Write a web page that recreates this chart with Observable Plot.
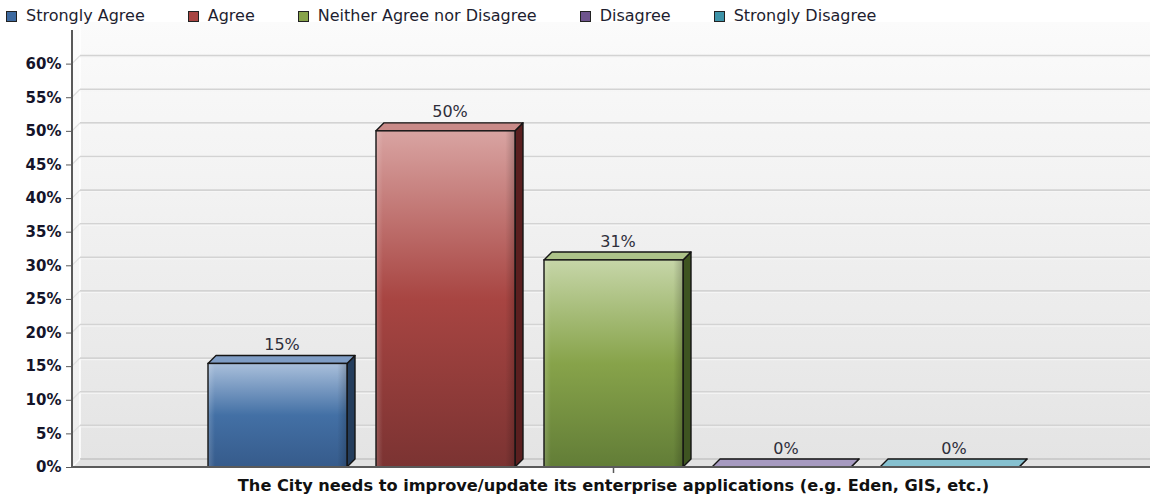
<!DOCTYPE html>
<html><head><meta charset="utf-8">
<script src="https://cdn.jsdelivr.net/npm/d3@7"></script>
<script src="https://cdn.jsdelivr.net/npm/@observablehq/plot@0.6"></script>
<style>
body{margin:0;background:#fff;font-family:"DejaVu Sans",sans-serif;}
#legend{height:22px;display:flex;align-items:flex-start;font-size:16px;line-height:20px;color:#1e1e30;padding-left:6px;box-sizing:border-box;padding-top:6px;overflow:visible;position:relative;z-index:2;}
.item{display:flex;align-items:center;margin-right:43px;white-space:nowrap;height:20px;}
.sw{width:9px;height:9px;border:1px solid #222;margin-right:9px;}
#chart svg{display:block;}
</style></head><body>
<div id="legend"></div><div id="chart"></div>
<script>
const statement = "The City needs to improve/update its enterprise applications (e.g. Eden, GIS, etc.)";
const answers = ["Strongly Agree", "Agree", "Neither Agree nor Disagree", "Disagree", "Strongly Disagree"];
const percents = [15.4, 50, 30.8, 0, 0];
const valueLabels = ["15%", "50%", "31%", "0%", "0%"];
const yTicks = [0, 5, 10, 15, 20, 25, 30, 35, 40, 45, 50, 55, 60];
const swatchColors = ["#3e6aa0", "#a84542", "#87a34a", "#6e548d", "#3e93a8"];
const gradLight = ["#a9bfdb", "#d9a4a2", "#c6d6a8", "#b9abd0", "#a3d2de"];
const gradMid = ["#4370a5", "#a84542", "#87a34a", "#7a5f9a", "#4a9ab0"];
const gradDark = ["#365b8b", "#7b3332", "#627d37", "#5a4575", "#357a8a"];
const topFace = ["#7f9dc5", "#c98a88", "#adc389", "#a69ac0", "#86c1d0"];
const sideFace = ["#243d5c", "#5a1f1f", "#3e5421", "#3e2f55", "#24596a"];

const data = answers.map((answer, i) => ({answer, value: percents[i], label: valueLabels[i], i}));

// legend
const legend = d3.select("#legend");
answers.forEach((a, i) => {
  const it = legend.append("div").attr("class", "item");
  it.append("div").attr("class", "sw").style("background", swatchColors[i]);
  it.append("span").text(a);
});

const DX = 8, DY = 8;

function backdrop(index, scales, values, dims) {
  const {width, height, marginLeft, marginRight, marginTop, marginBottom} = dims;
  const y = scales.y;
  const x0 = marginLeft, x1 = width - marginRight;
  const yb = height - marginBottom, yt = marginTop;
  const g = d3.create("svg:g");
  const defs = g.append("defs");
  const lg = defs.append("linearGradient").attr("id", "wallGrad").attr("x1", 0).attr("y1", 0).attr("x2", 0).attr("y2", 1);
  lg.append("stop").attr("offset", 0).attr("stop-color", "#fbfbfb");
  lg.append("stop").attr("offset", 1).attr("stop-color", "#e4e4e4");
  const lw = defs.append("linearGradient").attr("id", "leftGrad").attr("x1", 0).attr("y1", 0).attr("x2", 0).attr("y2", 1);
  lw.append("stop").attr("offset", 0).attr("stop-color", "#fdfdfd");
  lw.append("stop").attr("offset", 1).attr("stop-color", "#ececec");
  g.append("rect").attr("x", x0 + DX).attr("y", yt - DY).attr("width", x1 - x0 - DX).attr("height", yb - yt)
    .attr("fill", "url(#wallGrad)");
  g.append("path").attr("d", `M${x0},${yt}L${x0 + DX},${yt - DY}L${x0 + DX},${yb - DY}L${x0},${yb}Z`).attr("fill", "url(#leftGrad)");
  g.append("line").attr("x1", x0 + DX).attr("x2", x0 + DX).attr("y1", yt - DY).attr("y2", yb - DY).attr("stroke", "#fff").attr("stroke-width", 1.5);
  for (const t of yTicks) {
    if (t === 0) continue;
    const yy = y(t);
    g.append("line").attr("x1", x0 + DX).attr("x2", x1).attr("y1", yy - DY).attr("y2", yy - DY)
      .attr("stroke", "#d3d3d3").attr("stroke-width", 1.6);
    g.append("line").attr("x1", x0 + DX).attr("x2", x1).attr("y1", yy - DY + 1.5).attr("y2", yy - DY + 1.5)
      .attr("stroke", "#f6f6f6").attr("stroke-width", 1);
    g.append("line").attr("x1", x0).attr("x2", x0 + DX).attr("y1", yy).attr("y2", yy - DY)
      .attr("stroke", "#dedede").attr("stroke-width", 1.2);
  }
  g.append("path").attr("d", `M${x0},${yb}L${x0 + DX},${yb - DY}L${x1},${yb - DY}L${x1},${yb}Z`).attr("fill", "#e2e2e2");
  g.append("line").attr("x1", x0 + DX).attr("x2", x1).attr("y1", yb - DY).attr("y2", yb - DY).attr("stroke", "#c4c4c4").attr("stroke-width", 1.6);
  g.append("line").attr("x1", x0).attr("x2", x0 + DX).attr("y1", yb).attr("y2", yb - DY).attr("stroke", "#fafafa").attr("stroke-width", 1.5);
  return g.node();
}

function axes(index, scales, values, dims) {
  const {width, height, marginLeft, marginRight, marginTop, marginBottom} = dims;
  const x = scales.x;
  const x0 = marginLeft, x1 = width - marginRight;
  const yb = height - marginBottom, yt = marginTop;
  const g = d3.create("svg:g");
  g.append("line").attr("x1", x0).attr("x2", x0).attr("y1", yt).attr("y2", yb + 0.5).attr("stroke", "#5a5a5a").attr("stroke-width", 2);
  g.append("line").attr("x1", x0).attr("x2", x1).attr("y1", yb).attr("y2", yb).attr("stroke", "#5a5a5a").attr("stroke-width", 2);
  const cx = (x(answers[0]) + x(answers[answers.length - 1]) + x.bandwidth()) / 2;
  g.append("line").attr("x1", cx).attr("x2", cx).attr("y1", yb).attr("y2", yb + 6).attr("stroke", "#5a5a5a").attr("stroke-width", 1.5);
  return g.node();
}

function bars3d(index, scales) {
  const x = scales.x, y = scales.y;
  const bw = x.bandwidth();
  const g = d3.create("svg:g");
  const defs = g.append("defs");
  const hg = defs.append("linearGradient").attr("id", "shadeH").attr("x1", 0).attr("y1", 0).attr("x2", 1).attr("y2", 0);
  hg.append("stop").attr("offset", 0).attr("stop-color", "#fff").attr("stop-opacity", 0.18);
  hg.append("stop").attr("offset", 0.05).attr("stop-color", "#fff").attr("stop-opacity", 0);
  hg.append("stop").attr("offset", 0.93).attr("stop-color", "#000").attr("stop-opacity", 0);
  hg.append("stop").attr("offset", 1).attr("stop-color", "#000").attr("stop-opacity", 0.2);
  for (const i of index) {
    const d = data[i];
    const lg = defs.append("linearGradient").attr("id", "barGrad" + d.i).attr("x1", 0).attr("y1", 0).attr("x2", 0).attr("y2", 1);
    lg.append("stop").attr("offset", 0).attr("stop-color", gradLight[d.i]);
    lg.append("stop").attr("offset", 0.5).attr("stop-color", gradMid[d.i]);
    lg.append("stop").attr("offset", 1).attr("stop-color", gradDark[d.i]);
    const xl = x(d.answer), xr = xl + bw;
    const yt = y(d.value), yb = y(0);
    const stroke = "#151515", sw = 1.4;
    g.append("path").attr("d", `M${xr},${yt}L${xr + DX},${yt - DY}L${xr + DX},${yb - DY}L${xr},${yb}Z`)
      .attr("fill", sideFace[d.i]).attr("stroke", stroke).attr("stroke-width", sw).attr("stroke-linejoin", "round");
    g.append("path").attr("d", `M${xl},${yt}L${xl + DX},${yt - DY}L${xr + DX},${yt - DY}L${xr},${yt}Z`)
      .attr("fill", topFace[d.i]).attr("stroke", stroke).attr("stroke-width", sw).attr("stroke-linejoin", "round");
    if (yb - yt > 0.5) {
      g.append("rect").attr("x", xl).attr("y", yt).attr("width", bw).attr("height", yb - yt)
        .attr("fill", `url(#barGrad${d.i})`);
      g.append("rect").attr("x", xl).attr("y", yt).attr("width", bw).attr("height", yb - yt)
        .attr("fill", "url(#shadeH)").attr("stroke", stroke).attr("stroke-width", sw);
    }
  }
  return g.node();
}

const chart = Plot.plot({
  width: 1150,
  height: 478,
  marginLeft: 72,
  marginRight: 0,
  marginTop: 8,
  marginBottom: 33,
  style: {background: "transparent", fontFamily: "DejaVu Sans, sans-serif", overflow: "visible"},
  x: {domain: answers, insetLeft: 5, paddingInner: 0.175, paddingOuter: 0.77, axis: null},
  y: {domain: [0, 65], axis: null},
  marks: [
    backdrop,
    Plot.barY(data, {x: "answer", y: "value", render: bars3d}),
    Plot.text(data, {x: "answer", y: "value", text: "label", dx: 4, dy: -19, fontSize: 16, fill: "#2e2e3a", fontFamily: "DejaVu Sans"}),
    axes,
    Plot.axisY({ticks: yTicks, tickFormat: d => d + "%", tickSize: 6, tickPadding: 5, fontSize: 15, fontWeight: "bold", stroke: "#5a5a5a", fill: "#14142a", label: null, fontFamily: "DejaVu Sans"}),
    Plot.text([statement], {frameAnchor: "bottom", dx: 2, dy: 23, fontSize: 16.2, fontWeight: "bold", fill: "#111", fontFamily: "DejaVu Sans"})
  ]
});
document.getElementById("chart").appendChild(chart);
</script>
</body></html>
